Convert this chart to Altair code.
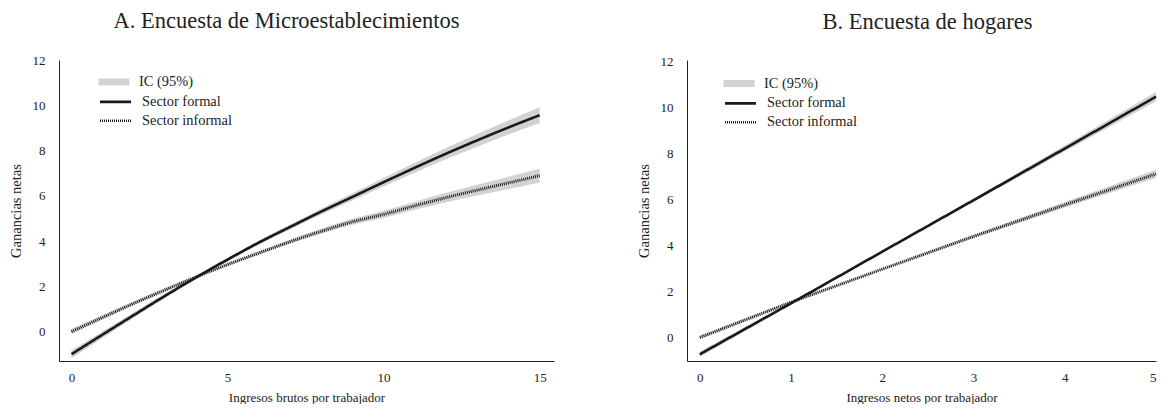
import altair as alt
import pandas as pd

# ---- Panel A: Encuesta de Microestablecimientos ----
a_x = [0, 1, 2, 3, 4, 5, 6, 7, 8, 9, 10, 11, 12, 13, 14, 15]
a_formal = [-1.00, -0.13, 0.73, 1.58, 2.40, 3.18, 3.93, 4.62, 5.30, 5.95, 6.60, 7.24, 7.86, 8.45, 9.02, 9.56]
a_formal_ci = [0.18, 0.15, 0.12, 0.10, 0.08, 0.08, 0.09, 0.11, 0.13, 0.16, 0.19, 0.22, 0.25, 0.28, 0.31, 0.35]
a_informal = [0.00, 0.63, 1.25, 1.84, 2.42, 2.96, 3.47, 3.97, 4.43, 4.85, 5.18, 5.56, 5.92, 6.25, 6.57, 6.89]
a_informal_ci = [0.12, 0.10, 0.08, 0.07, 0.06, 0.06, 0.07, 0.09, 0.11, 0.13, 0.16, 0.18, 0.21, 0.24, 0.27, 0.30]

# ---- Panel B: Encuesta de hogares ----
b_x = [0, 1, 2, 3, 4, 5]
b_formal = [-0.71, 1.50, 3.74, 5.97, 8.21, 10.46]
b_formal_ci = [0.12, 0.06, 0.05, 0.08, 0.13, 0.20]
b_informal = [0.02, 1.55, 2.98, 4.40, 5.77, 7.11]
b_informal_ci = [0.08, 0.05, 0.04, 0.07, 0.12, 0.18]

ci_label = "IC (95%)"
series_labels = ["Sector formal", "Sector informal"]
y_ticks = [0, 2, 4, 6, 8, 10, 12]
a_x_ticks = [0, 5, 10, 15]
b_x_ticks = [0, 1, 2, 3, 4, 5]

FONT = "Liberation Serif"
INK = "#1a1a1a"
BAND = "#d2d2d2"


def frame(xs, formal, formal_ci, informal, informal_ci):
    rows = []
    for x, y, c in zip(xs, formal, formal_ci):
        rows.append({"x": x, "y": y, "lo": y - c, "hi": y + c,
                     "serie": series_labels[0], "ic": ci_label})
    for x, y, c in zip(xs, informal, informal_ci):
        rows.append({"x": x, "y": y, "lo": y - c, "hi": y + c,
                     "serie": series_labels[1], "ic": ci_label})
    return pd.DataFrame(rows)


def panel(df, title, xtitle, xdom, ydom, xticks, interp, width, legx, legy, title_dx):
    xenc = alt.X("x:Q", title=xtitle,
                 scale=alt.Scale(domain=xdom, nice=False, zero=False),
                 axis=alt.Axis(values=xticks, format="d", labelFlush=True))
    band = alt.Chart(df).mark_area(opacity=1, interpolate=interp).encode(
        x=xenc,
        y=alt.Y("lo:Q", title="Ganancias netas",
                scale=alt.Scale(domain=ydom, nice=False, zero=False),
                axis=alt.Axis(values=y_ticks)),
        y2="hi:Q",
        detail="serie:N",
        fill=alt.Fill("ic:N", title=None,
                      scale=alt.Scale(domain=[ci_label], range=[BAND]),
                      legend=alt.Legend(orient="none", legendX=legx, legendY=legy,
                                        symbolType="M-2,-0.45H2V0.45H-2Z", symbolSize=240,
                                        symbolStrokeWidth=0, symbolOpacity=1,
                                        labelFont=FONT, labelFontSize=14.4, labelColor="#222",
                                        labelOffset=17)),
    )
    line = alt.Chart(df).mark_line(interpolate=interp, strokeCap="butt").encode(
        x=xenc,
        y=alt.Y("y:Q"),
        color=alt.Color("serie:N", title=None,
                        scale=alt.Scale(domain=series_labels, range=[INK, INK]),
                        legend=alt.Legend(orient="none", legendX=legx, legendY=legy + 18.4,
                                          symbolType="M-2,0H2", symbolSize=240,
                                          symbolStrokeWidth=2.6,
                                          labelFont=FONT, labelFontSize=14.4, labelColor="#222",
                                          labelOffset=17, rowPadding=2.9)),
        strokeDash=alt.StrokeDash("serie:N", title=None,
                                  scale=alt.Scale(domain=series_labels, range=[[1, 0], [1, 1]])),
        strokeWidth=alt.condition(alt.datum.serie == series_labels[0], alt.value(2.6), alt.value(3)),
    )
    return alt.layer(band, line).properties(
        width=width, height=301,
        title=alt.TitleParams(title, font=FONT, fontSize=22.5, fontWeight="normal",
                              color="#222", anchor="middle", offset=22, dx=title_dx),
    )


pa = panel(frame(a_x, a_formal, a_formal_ci, a_informal, a_informal_ci),
           "A. Encuesta de Microestablecimientos", "Ingresos brutos por trabajador",
           [-0.40, 15.46], [-1.3, 12.0], a_x_ticks, "monotone", 495, 47, 14, -20)
pb = panel(frame(b_x, b_formal, b_formal_ci, b_informal, b_informal_ci),
           "B. Encuesta de hogares", "Ingresos netos por trabajador",
           [-0.14, 5.0], [-1.0, 12.05], b_x_ticks, "linear", 469, 44, 15.5, 6)

chart = alt.hconcat(pa, pb, spacing=82).resolve_scale(
    x="independent", y="independent", color="independent",
    strokeDash="independent", fill="independent",
).resolve_legend(color="independent", strokeDash="independent", fill="independent").properties(
    padding={"left": 0, "top": 1, "right": 0, "bottom": 0}
).configure_view(stroke=None).configure_axis(
    grid=False, ticks=False, domainColor="#222", domainWidth=1,
    labelFont=FONT, labelFontSize=13, labelColor="#222",
    titleFont=FONT, titleFontWeight="normal", titleColor="#222",
).configure_axisY(titlePadding=9, labelPadding=14, titleFontSize=14.5).configure_axisX(
    titlePadding=7, labelPadding=10, titleFontSize=13)

chart.save("out.html", embed_options={"renderer": "svg", "actions": False})
